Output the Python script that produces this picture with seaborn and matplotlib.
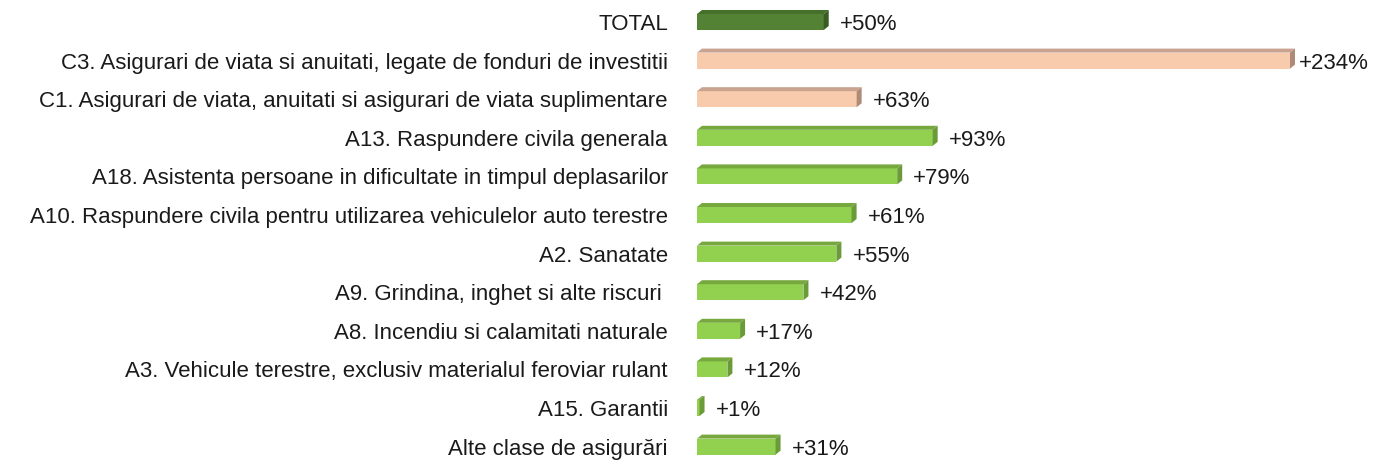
import numpy as np
import pandas as pd
import matplotlib
matplotlib.use("Agg")
import matplotlib.pyplot as plt
import seaborn as sns
from matplotlib.patches import Polygon

categories = [
    "TOTAL",
    "C3. Asigurari de viata si anuitati, legate de fonduri de investitii",
    "C1. Asigurari de viata, anuitati si asigurari de viata suplimentare",
    "A13. Raspundere civila generala",
    "A18. Asistenta persoane in dificultate in timpul deplasarilor",
    "A10. Raspundere civila pentru utilizarea vehiculelor auto terestre",
    "A2. Sanatate",
    "A9. Grindina, inghet si alte riscuri ",
    "A8. Incendiu si calamitati naturale",
    "A3. Vehicule terestre, exclusiv materialul feroviar rulant",
    "A15. Garantii",
    "Alte clase de asigurări",
]
growth = [50, 234, 63, 93, 79, 61, 55, 42, 17, 12, 1, 31]
groups = ["total", "life", "life"] + ["general"] * 9

front_colors = {"total": "#548235", "life": "#f8cbad", "general": "#92d050"}
top_colors = {"total": "#44702a", "life": "#c9a390", "general": "#76a83e"}
side_colors = {"total": "#3a5c24", "life": "#b08a78", "general": "#6b9a38"}

df = pd.DataFrame({"category": categories, "growth": growth, "group": groups})

sns.set_style("white")
plt.rcParams["font.family"] = ["Liberation Sans Narrow", "Liberation Sans", "DejaVu Sans"]

W, H = 1386, 463
fig = plt.figure(figsize=(W / 100, H / 100), dpi=100)
ax = fig.add_axes([697 / W, 0, 1 - 697 / W, 1])

sns.barplot(data=df, x="growth", y="category", hue="group",
            palette=front_colors, dodge=False, legend=False,
            width=0.415, ax=ax, saturation=1)

ax.set_xlim(0, 234 * (W - 697) / (1290 - 697))
ax.set_ylim((H - 22) / 38.6, -22 / 38.6)

# pixel -> data conversions for the 3D faces
xr = ax.get_xlim()[1] / (W - 697)
yr = (ax.get_ylim()[0] - ax.get_ylim()[1]) / H
dx, dy = 5 * xr, 4 * yr

for bar, grp, val in zip(sorted(ax.patches, key=lambda p: p.get_y()), groups, growth):
    x0 = bar.get_x()
    x1 = x0 + bar.get_width()
    yt = bar.get_y()
    yb = yt + bar.get_height()
    bar.set_edgecolor("none")
    top = Polygon([(x0, yt), (x0 + dx, yt - dy), (x1 + dx, yt - dy), (x1, yt)],
                  closed=True, facecolor=top_colors[grp], edgecolor="none")
    side = Polygon([(x1, yt), (x1 + dx, yt - dy), (x1 + dx, yb - dy), (x1, yb)],
                   closed=True, facecolor=side_colors[grp], edgecolor="none")
    ax.add_patch(top)
    ax.add_patch(side)
    gap = 4 if val > 200 else 11
    ax.text(x1 + dx + gap * xr, (yt + yb) / 2, f"+{val}%",
            va="center_baseline", ha="left", fontsize=16, color="#1a1a1a")

ax.set_xlabel("")
ax.set_ylabel("")
ax.set_xticks([])
ax.tick_params(axis="y", length=0, pad=21, labelsize=16, labelcolor="#1a1a1a")
sns.despine(ax=ax, left=True, bottom=True)

fig.savefig("out.png", dpi=100)
